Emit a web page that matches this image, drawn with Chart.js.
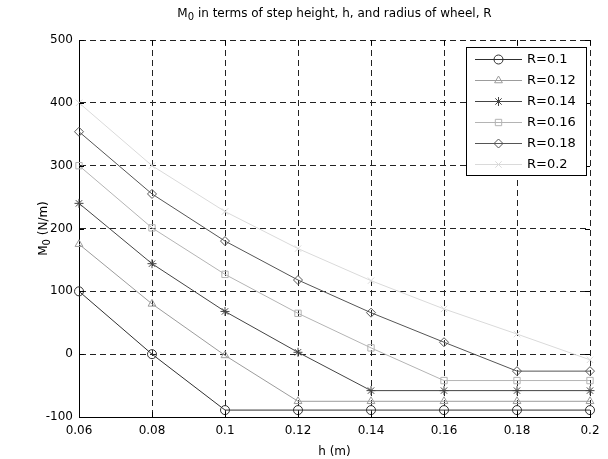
<!DOCTYPE html>
<html>
<head>
<meta charset="utf-8">
<script src="https://cdn.jsdelivr.net/npm/chart.js@4/dist/chart.umd.min.js"></script>
<style>
  html, body { margin: 0; padding: 0; background: #fff; }
  #chart { display: block; }
</style>
</head>
<body>
<canvas id="chart" width="608" height="459"></canvas>
<script>
// step height h (m)
const heights = ['0.06', '0.08', '0.1', '0.12', '0.14', '0.16', '0.18', '0.2'];

// M0 (N/m) for each wheel radius
const r010 = [100, 0, -89, -89, -89, -89, -89, -89];
const r012 = [175, 80, -2, -75, -75, -75, -75, -75];
const r014 = [240, 144, 68, 3, -58, -58, -58, -58];
const r016 = [300, 201, 127, 65, 10, -42, -42, -42];
const r018 = [354, 255, 180, 118, 66, 19, -27, -27];
const r020 = [400, 300, 227, 168, 117, 72, 32, -9];

const yTicks = [-100, 0, 100, 200, 300, 400, 500];

const font = "'DejaVu Sans', Arial, Helvetica, sans-serif";

const series = [
    { label: 'R=0.1', data: r010, color: '#303030', style: 'circle' },
    { label: 'R=0.12', data: r012, color: '#9c9c9c', style: 'triangle' },
    { label: 'R=0.14', data: r014, color: '#444444', style: 'star' },
    { label: 'R=0.16', data: r016, color: '#b4b4b4', style: 'rect' },
    { label: 'R=0.18', data: r018, color: '#555555', style: 'rectRot' },
    { label: 'R=0.2', data: r020, color: '#dadada', style: 'crossRot' },
];

// draws "M" + subscript "0" + rest, centred on x
function drawSubText(ctx, x, y, rest, size) {
    const big = `${size}px ${font}`;
    const small = `${Math.round(size * 0.8)}px ${font}`;
    ctx.font = big;
    const wM = ctx.measureText('M').width;
    const wR = ctx.measureText(rest).width;
    ctx.font = small;
    const w0 = ctx.measureText('0').width;
    let cx = x - (wM + w0 + wR) / 2;
    ctx.textAlign = 'left';
    ctx.textBaseline = 'alphabetic';
    ctx.font = big;
    ctx.fillText('M', cx, y);
    cx += wM;
    ctx.font = small;
    ctx.fillText('0', cx, y + 3);
    cx += w0;
    ctx.font = big;
    ctx.fillText(rest, cx, y);
}

const decorations = {
    id: 'decorations',
    afterDraw(chart) {
        const { ctx, chartArea, scales } = chart;
        const { left, right, top, bottom } = chartArea;
        const midX = (left + right) / 2;
        const midY = (top + bottom) / 2;
        ctx.save();

        // inward tick marks, as on a matlab box
        ctx.strokeStyle = '#000';
        ctx.lineWidth = 1;
        ctx.setLineDash([]);
        ctx.beginPath();
        heights.forEach((h, i) => {
            const x = Math.round(scales.x.getPixelForValue(i)) + 0.5;
            ctx.moveTo(x, bottom);
            ctx.lineTo(x, bottom - 5);
            ctx.moveTo(x, top);
            ctx.lineTo(x, top + 5);
        });
        yTicks.forEach((v) => {
            const y = Math.round(scales.y.getPixelForValue(v)) + 0.5;
            ctx.moveTo(left, y);
            ctx.lineTo(left + 5, y);
            ctx.moveTo(right, y);
            ctx.lineTo(right - 5, y);
        });
        ctx.stroke();

        ctx.fillStyle = '#000';

        // title
        drawSubText(ctx, midX, 17, ' in terms of step height, h, and radius of wheel, R', 12);

        // x label
        ctx.font = `12px ${font}`;
        ctx.textAlign = 'center';
        ctx.textBaseline = 'alphabetic';
        ctx.fillText('h (m)', midX, 455);

        // y label
        ctx.save();
        ctx.translate(47, midY);
        ctx.rotate(-Math.PI / 2);
        drawSubText(ctx, 0, 0, ' (N/m)', 12);
        ctx.restore();

        // legend
        const box = { left: 466, top: 47, right: 586, bottom: 175 };
        ctx.fillStyle = '#fff';
        ctx.fillRect(box.left, box.top, box.right - box.left, box.bottom - box.top);
        ctx.strokeStyle = '#000';
        ctx.lineWidth = 1;
        ctx.strokeRect(box.left + 0.5, box.top + 0.5, box.right - box.left, box.bottom - box.top);

        chart.data.datasets.forEach((ds, i) => {
            const y = 59 + i * 21;
            ctx.strokeStyle = ds.borderColor;
            ctx.lineWidth = 1;
            ctx.beginPath();
            ctx.moveTo(475, y + 0.5);
            ctx.lineTo(522, y + 0.5);
            ctx.stroke();
            ctx.fillStyle = 'rgba(0,0,0,0)';
            Chart.helpers.drawPoint(ctx, {
                pointStyle: ds.pointStyle,
                radius: ds.pointRadius,
                borderWidth: 1,
                rotation: 0,
            }, 498.5, y + 0.5);
            ctx.fillStyle = '#000';
            ctx.font = `13px ${font}`;
            ctx.textAlign = 'left';
            ctx.textBaseline = 'middle';
            ctx.fillText(ds.label, 527, y + 1);
        });
        ctx.restore();
    },
};

new Chart(document.getElementById('chart'), {
    type: 'line',
    data: {
        labels: heights,
        datasets: series.map((s) => ({
            label: s.label,
            data: s.data,
            borderColor: s.color,
            backgroundColor: 'rgba(0,0,0,0)',
            pointBackgroundColor: 'rgba(0,0,0,0)',
            pointBorderColor: s.color,
            pointStyle: s.style,
            pointRadius: 4.5,
            pointBorderWidth: 1,
            borderWidth: 1,
            tension: 0,
        })),
    },
    options: {
        responsive: false,
        animation: false,
        layout: { padding: { top: 40, right: 18, left: 0, bottom: 0 } },
        plugins: {
            legend: { display: false },
            title: { display: false },
            tooltip: { enabled: false },
        },
        scales: {
            x: {
                type: 'category',
                offset: false,
                afterFit(scale) { scale.height = 42; },
                grid: {
                    color: '#222',
                    lineWidth: 1,
                    drawTicks: false,
                },
                border: { display: true, color: '#000', width: 1, dash: [6, 4] },
                ticks: {
                    color: '#000',
                    padding: 7,
                    font: { family: font, size: 12 },
                    maxRotation: 0,
                },
            },
            y: {
                min: -100,
                max: 500,
                afterFit(scale) { scale.width = 79; },
                afterBuildTicks(scale) {
                    scale.ticks = yTicks.map((v) => ({ value: v }));
                },
                grid: {
                    color: '#222',
                    lineWidth: 1,
                    drawTicks: false,
                },
                border: { display: true, color: '#000', width: 1, dash: [6, 4] },
                ticks: {
                    color: '#000',
                    padding: 6,
                    font: { family: font, size: 12 },
                },
            },
        },
    },
    plugins: [decorations],
});
</script>
</body>
</html>
